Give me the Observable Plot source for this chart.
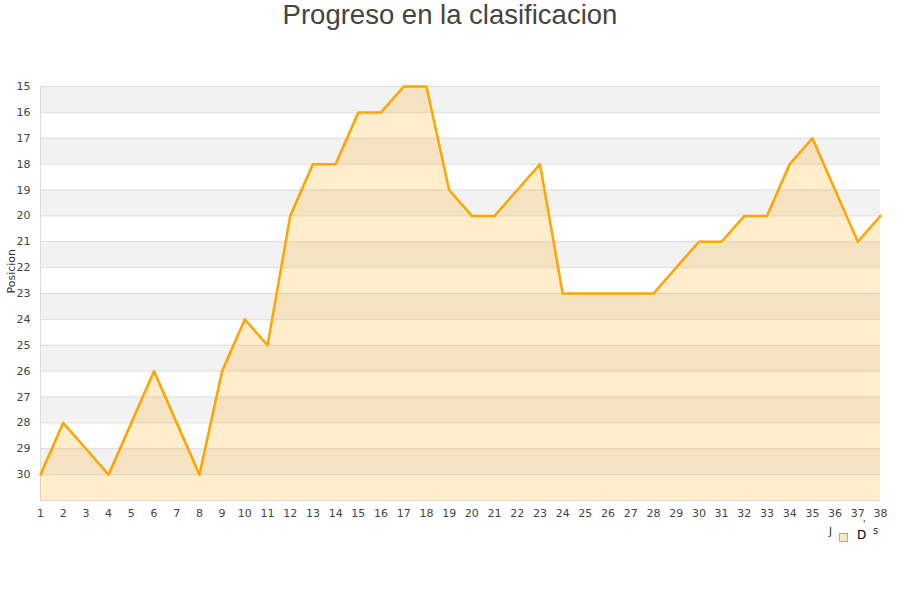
<!DOCTYPE html>
<html>
<head>
<meta charset="utf-8">
<script src="https://cdn.jsdelivr.net/npm/d3@7"></script>
<script src="https://cdn.jsdelivr.net/npm/@observablehq/plot@0.6"></script>
<style>
  body { margin: 0; background: #fff; }
  #wrap { position: relative; width: 900px; height: 600px; }
  #title { position: absolute; left: 0; top: -1px; width: 900px; text-align: center;
           font-family: "Liberation Sans", Arial, sans-serif; font-size: 27.5px; color: #444; line-height: 32px; }
  .leg { position: absolute; font-family: "DejaVu Sans", sans-serif; font-size: 11px; color: #222; }
  #sw { position: absolute; left: 839px; top: 533px; width: 7px; height: 7px;
        background: #fde8c4; border: 1px solid #b8a88e; }
</style>
</head>
<body>
<div id="wrap">
  <div id="chart"></div>
  <div id="title">Progreso en la clasificacion</div>
  <div class="leg" style="left:829px;top:526px;font-size:10px;">J</div>
  <div id="sw"></div>
  <div class="leg" style="left:857px;top:528px;font-size:12px;color:#000;">D</div>
  <div class="leg" style="left:863px;top:519px;font-size:9px;">'</div>
  <div class="leg" style="left:873px;top:525px;font-size:10px;">s</div>
</div>
<script>
const jornadas = d3.range(1, 39);
const posiciones = [30, 28, 29, 30, 28, 26, 28, 30, 26, 24, 25, 20, 18, 18, 16, 16, 15, 15, 19, 20,
                    20, 19, 18, 23, 23, 23, 23, 23, 22, 21, 21, 20, 20, 18, 17, 19, 21, 20];
const yTicks = d3.range(15, 31);
const bandStarts = [15, 17, 19, 21, 23, 25, 27, 29];
const gridLines = d3.range(15, 32);
const yLabel = "Posicion";

const data = jornadas.map((j, i) => ({jornada: j, pos: posiciones[i]}));
const bands = bandStarts.map(s => ({y1: s, y2: s + 1}));

const chart = Plot.plot({
  width: 900,
  height: 600,
  marginTop: 86,
  marginBottom: 100,
  marginLeft: 40,
  marginRight: 20,
  style: {fontFamily: "'DejaVu Sans', sans-serif", fontSize: "11px", color: "#444", background: "#fff"},
  x: {domain: [1, 38], ticks: jornadas, tickSize: 0, tickPadding: 9, label: null, tickFormat: d => d},
  y: {domain: [15, 31], reverse: true, ticks: yTicks, tickSize: 0, tickPadding: 10, label: null, tickFormat: d => d},
  marks: [
    Plot.rectY(bands, {x1: 1, x2: 38, y1: "y1", y2: "y2", fill: "#f2f2f2"}),
    Plot.ruleY(gridLines, {stroke: "#dddddd", strokeWidth: 1}),
    Plot.ruleX([1], {stroke: "#dddddd", strokeWidth: 1}),
    Plot.areaY(data, {x: "jornada", y1: 31, y2: "pos", fill: "orange", fillOpacity: 0.2}),
    Plot.line(data, {x: "jornada", y: "pos", stroke: "#FFA500", strokeWidth: 2.5}),
    Plot.text([yLabel], {frameAnchor: "left", dx: -29, rotate: -90, text: d => d, fontSize: 11, fill: "#333"})
  ]
});
document.getElementById("chart").appendChild(chart);
</script>
</body>
</html>
